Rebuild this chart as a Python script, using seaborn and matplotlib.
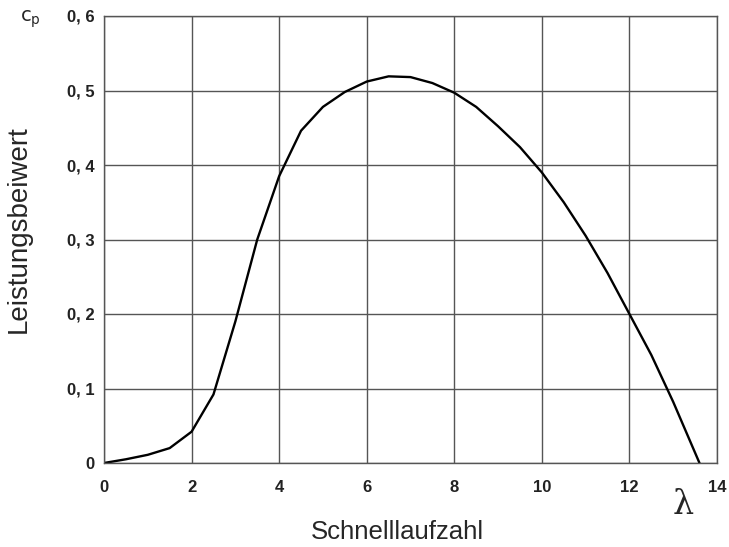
import pandas as pd
import seaborn as sns
import matplotlib.pyplot as plt

# Kennlinie Leistungsbeiwert über Schnelllaufzahl
lam = [0, 0.5, 1, 1.5, 2, 2.5, 3, 3.5, 4, 4.5, 5, 5.5, 6, 6.5, 7, 7.5, 8,
       8.5, 9, 9.5, 10, 10.5, 11, 11.5, 12, 12.5, 13, 13.6]
cp = [0, 0.005, 0.011, 0.02, 0.042, 0.092, 0.19, 0.30, 0.385, 0.446, 0.478,
      0.498, 0.512, 0.519, 0.518, 0.510, 0.497, 0.478, 0.452, 0.424, 0.39,
      0.35, 0.305, 0.255, 0.20, 0.145, 0.082, 0]

x_ticks = [0, 2, 4, 6, 8, 10, 12, 14]
y_ticks = [0, 0.1, 0.2, 0.3, 0.4, 0.5, 0.6]
y_tick_labels = ["0", "0, 1", "0, 2", "0, 3", "0, 4", "0, 5", "0, 6"]

df = pd.DataFrame({"lambda": lam, "cp": cp})

sns.set_style("white")
plt.rcParams["font.family"] = ["Liberation Sans", "DejaVu Sans"]

fig = plt.figure(figsize=(7.29, 5.47), dpi=100)
ax = fig.add_axes([104 / 729, 1 - 463 / 547, 613 / 729, 447 / 547])

sns.lineplot(data=df, x="lambda", y="cp", color="black", linewidth=1.7, ax=ax)

ax.set_xlim(0, 14)
ax.set_ylim(0, 0.6)
ax.set_xticks(x_ticks)
ax.set_xticklabels([str(t) for t in x_ticks], fontweight="bold", fontsize=12)
ax.set_yticks(y_ticks)
ax.set_yticklabels(y_tick_labels, fontweight="bold", fontsize=12)
ax.tick_params(axis="both", length=0, colors="#222222")
ax.tick_params(axis="x", pad=12)
ax.tick_params(axis="y", pad=7)

ax.grid(True, color="#555555", linewidth=1.0)
for s in ax.spines.values():
    s.set_color("#555555")
    s.set_linewidth(1.0)

ax.set_xlabel("")
ax.set_ylabel("")

fig.text(19 / 729, 1 - 229 / 547, "Leistungsbeiwert", rotation=90,
         ha="center", va="center", fontsize=20)
fig.text(397 / 729, 1 - 532 / 547, "Schnelllaufzahl", ha="center",
         va="center", fontsize=18.5)
fig.text(30 / 729, 1 - 19 / 547, r"$\mathsf{c_p}$", ha="center", va="center",
         fontsize=14)
fig.text(683 / 729, 1 - 505 / 547, "λ", ha="center", va="center",
         fontsize=24, family="DejaVu Serif")

plt.savefig("out.png", dpi=100)
